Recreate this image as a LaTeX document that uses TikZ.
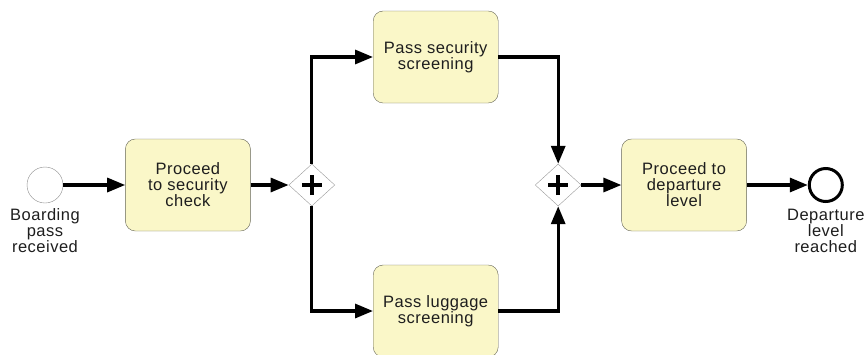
\documentclass[tikz,border=0pt]{standalone}
\usepackage{fontspec}
\setmainfont[LetterSpace=3]{Liberation Sans}
\usepackage{tikz}
\usetikzlibrary{arrows.meta,positioning,shapes.geometric,calc}
\definecolor{taskfill}{RGB}{250,247,200}
\definecolor{taskline}{RGB}{100,100,85}
\definecolor{txt}{RGB}{30,30,30}
\tikzset{%
   task/.style={
      draw=taskline,
      fill=taskfill,
      rounded corners=10pt,
      minimum width=125pt,
      minimum height=92pt,
      align=center,
      inner sep=0pt,
      text=txt
   },
   gw/.style={
      diamond,
      draw=gray!80,
      fill=white,
      minimum width=46pt,
      minimum height=42pt,
      inner sep=0pt,
      path picture={
        \draw[black, line width=4.5pt]
          ($(path picture bounding box.center)+(-10pt,0)$) --
          ($(path picture bounding box.center)+(10pt,0)$)
          ($(path picture bounding box.center)+(0,-10pt)$) --
          ($(path picture bounding box.center)+(0,10pt)$);
      }
   },
   ev/.style={
      draw=gray!90,
      circle,
      fill=white,
      minimum size=36pt,
      inner sep=0pt
   },
   endev/.style={
      draw=black,
      circle,
      line width=3pt,
      fill=white,
      minimum size=33pt,
      inner sep=0pt
   },
   lbl/.style={
      align=center,
      inner sep=0pt,
      text=txt
   },
   flow/.style={
      line width=3.2pt,
      -{Triangle[length=18pt,width=14pt]}
   },
}

\begin{document}
\begin{tikzpicture}[x=1pt, y=-1pt,
    font=\fontsize{16.5}{16}\selectfont]
   \useasboundingbox (0,0) rectangle (864,354);
   \node[ev] (start) at (45,185) {};
   \node[lbl, below=5pt of start] (startlbl) {Boarding\\pass\\received};
   \node[task, right=62pt of start] (check) {Proceed\\to security\\check};
   \node[gw, right=38pt of check] (fork) {};
   \node[task, right=38pt of fork, yshift=128pt] (security) {Pass security\\screening};
   \node[task, right=38pt of fork, yshift=-126pt] (luggage) {Pass luggage\\screening};
   \node[gw, right=200pt of fork] (join) {};
   \node[task, right=40pt of join] (departure) {Proceed to\\departure\\level};
   \node[endev, right=61pt of departure] (reached) {};
   \node[lbl, below=6pt of reached] (reachedlbl) {Departure\\level\\reached};
   % sequence flows
   \draw[flow] (start) -- (check);
   \draw[flow] (check) -- (fork);
   \draw[flow] (fork.north) |- (security.west);
   \draw[flow] (fork.south) |- (luggage.west);
   \draw[flow] (security.east) -| (join.north);
   \draw[flow] (luggage.east) -| (join.south);
   \draw[flow] (join) -- (departure);
   \draw[flow] (departure) -- (reached);
\end{tikzpicture}
\end{document}
